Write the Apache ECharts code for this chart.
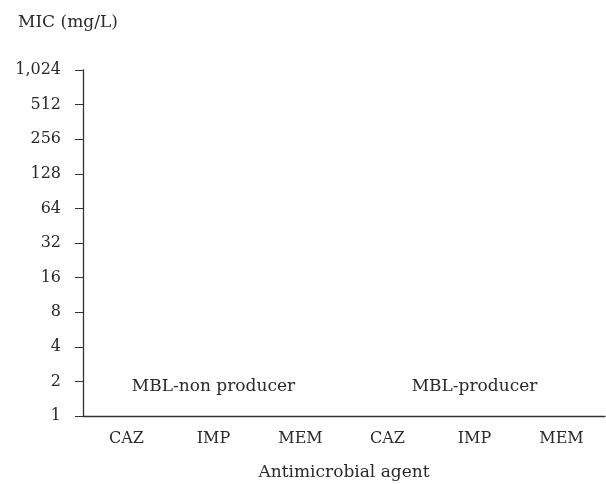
<!DOCTYPE html>
<html>
<head>
<meta charset="utf-8">
<script src="https://cdn.jsdelivr.net/npm/echarts@6/dist/echarts.min.js"></script>
<style>
html,body{margin:0;padding:0;background:#fff;}
#chart{width:606px;height:484px;}
</style>
</head>
<body>
<div id="chart"></div>
<script>
var categories = ['CAZ', 'IMP', 'MEM', 'CAZ ', 'IMP ', 'MEM '];
var yTicks = [1, 2, 4, 8, 16, 32, 64, 128, 256, 512, 1024];
var groupNames = ['MBL-non producer', 'MBL-producer'];
var groupCenters = ['IMP', 'IMP '];
var groupLabelLevel = [2, 2];

var FONT = 'DejaVu Serif';
var TXT = '#2a2a2a';
var chart = echarts.init(document.getElementById('chart'));
chart.setOption({
  animation: false,
  title: {
    text: 'MIC (mg/L)', left: 13, top: 9,
    textStyle: {fontFamily: FONT, fontSize: 17, fontWeight: 'normal', color: TXT}
  },
  grid: {left: 83, right: 1, top: 70, bottom: 68, containLabel: false, outerBoundsMode: 'none'},
  xAxis: {
    type: 'category',
    data: categories,
    boundaryGap: true,
    axisLine: {lineStyle: {color: '#333', width: 1.3}},
    axisTick: {alignWithLabel: true, length: 8, lineStyle: {color: '#333'}},
    axisLabel: {
      margin: 15, color: TXT, fontFamily: FONT, fontSize: 16,
      formatter: function (v) { return v.trim(); }
    },
    name: 'Antimicrobial agent',
    nameLocation: 'middle',
    nameGap: 48,
    nameTextStyle: {fontFamily: FONT, fontSize: 17, color: TXT}
  },
  yAxis: {
    type: 'log',
    logBase: 2,
    min: yTicks[0],
    max: yTicks[yTicks.length - 1],
    interval: 1,
    axisLine: {show: true, lineStyle: {color: '#333', width: 1.3}},
    axisTick: {show: true, length: 8, lineStyle: {color: '#333'}},
    splitLine: {show: false},
    axisLabel: {
      margin: 22, color: TXT, fontFamily: FONT, fontSize: 16,
      formatter: function (v) { return Math.round(v).toLocaleString('en-US'); }
    }
  },
  series: [{
    type: 'scatter',
    symbolSize: 0,
    silent: true,
    itemStyle: {opacity: 1},
    data: groupNames.map(function (n, i) {
      return {value: [groupCenters[i], groupLabelLevel[i]], name: n};
    }),
    label: {
      show: true, position: 'inside', offset: [0, 5],
      formatter: function (p) { return p.name; },
      color: TXT, opacity: 1, fontFamily: FONT, fontSize: 17
    }
  }]
});
</script>
</body>
</html>
